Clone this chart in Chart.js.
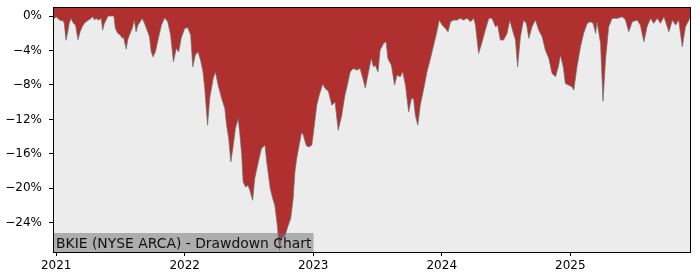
<!DOCTYPE html>
<html>
<head>
<meta charset="utf-8">
<script src="https://cdn.jsdelivr.net/npm/chart.js@4"></script>
<style>
  html, body { margin: 0; padding: 0; background: #fff; }
  #wrap { width: 700px; height: 280px; }
</style>
</head>
<body>
<div id="wrap"><canvas id="ddChart"></canvas></div>
<script>
const chartTitle = 'BKIE (NYSE ARCA) - Drawdown Chart';

const dates = [
  '2020-12-23','2020-12-27','2021-01-01','2021-01-08','2021-01-15','2021-01-19','2021-01-24','2021-01-29',
  '2021-02-03','2021-02-07','2021-02-12','2021-02-19','2021-02-25','2021-03-04','2021-03-10','2021-03-16',
  '2021-03-22','2021-03-27','2021-04-03','2021-04-10','2021-04-15','2021-04-20','2021-04-24','2021-05-02',
  '2021-05-09','2021-05-13','2021-05-18','2021-05-23','2021-05-28','2021-06-06','2021-06-14','2021-06-18',
  '2021-06-25','2021-07-02','2021-07-08','2021-07-11','2021-07-19','2021-07-23','2021-07-28','2021-08-05',
  '2021-08-11','2021-08-16','2021-08-21','2021-08-28','2021-09-02','2021-09-09','2021-09-18','2021-09-23',
  '2021-09-28','2021-10-03','2021-10-10','2021-10-17','2021-10-27','2021-11-05','2021-11-14','2021-11-22',
  '2021-11-30','2021-12-08','2021-12-15','2021-12-22','2022-01-01','2022-01-10','2022-01-18','2022-01-24',
  '2022-01-31','2022-02-08','2022-02-15','2022-02-22','2022-02-27','2022-03-07','2022-03-13','2022-03-23',
  '2022-03-29','2022-04-06','2022-04-16','2022-04-25','2022-04-30','2022-05-06','2022-05-12','2022-05-19',
  '2022-05-25','2022-06-02','2022-06-07','2022-06-12','2022-06-16','2022-06-23','2022-06-30','2022-07-05',
  '2022-07-13','2022-07-19','2022-07-29','2022-08-07','2022-08-17','2022-08-22','2022-09-01','2022-09-08',
  '2022-09-14','2022-09-21','2022-09-27','2022-10-03','2022-10-13','2022-10-22','2022-10-29','2022-11-05',
  '2022-11-10','2022-11-15','2022-11-22','2022-11-29','2022-12-04','2022-12-12','2022-12-18','2022-12-28',
  '2023-01-03','2023-01-11','2023-01-18','2023-01-28','2023-02-04','2023-02-13','2023-02-23','2023-03-04',
  '2023-03-13','2023-03-23','2023-04-01','2023-04-08','2023-04-16','2023-04-25','2023-05-05','2023-05-14',
  '2023-05-22','2023-05-29','2023-06-07','2023-06-15','2023-06-21','2023-06-26','2023-07-04','2023-07-10',
  '2023-07-20','2023-07-27','2023-08-01','2023-08-11','2023-08-20','2023-08-27','2023-09-05','2023-09-12',
  '2023-09-20','2023-09-29','2023-10-07','2023-10-13','2023-10-18','2023-10-25','2023-11-01','2023-11-11',
  '2023-11-20','2023-11-30','2023-12-09','2023-12-16','2023-12-25','2024-01-02','2024-01-11','2024-01-19',
  '2024-01-26','2024-02-04','2024-02-14','2024-02-23','2024-03-03','2024-03-13','2024-03-23','2024-04-01',
  '2024-04-06','2024-04-15','2024-04-25','2024-05-04','2024-05-14','2024-05-23','2024-06-02','2024-06-08',
  '2024-06-16','2024-06-25','2024-07-05','2024-07-13','2024-07-19','2024-07-29','2024-08-04','2024-08-12',
  '2024-08-21','2024-08-29','2024-09-05','2024-09-14','2024-09-24','2024-10-03','2024-10-13','2024-10-22',
  '2024-11-01','2024-11-10','2024-11-20','2024-11-29','2024-12-04','2024-12-12','2024-12-18','2024-12-27',
  '2025-01-06','2025-01-11','2025-01-20','2025-01-30','2025-02-08','2025-02-18','2025-02-27','2025-03-07',
  '2025-03-14','2025-03-18','2025-03-28','2025-04-04','2025-04-11','2025-04-20','2025-04-30','2025-05-14',
  '2025-05-29','2025-06-07','2025-06-16','2025-06-26','2025-07-10','2025-07-19','2025-07-29','2025-08-07',
  '2025-08-17','2025-08-26','2025-09-05','2025-09-14','2025-09-24','2025-10-08','2025-10-18','2025-10-27',
  '2025-11-05','2025-11-15','2025-11-24','2025-12-04','2025-12-07'
];

// drawdown in percent
const drawdown = [
  -0.4, -0.27, -0.08, -0.35, -0.58, -0.47, -0.85, -2.8,
  -1.83, -0.85, -0.27, -0.85, -1.05, -2.75, -1.83, -1.24,
  -0.85, -0.66, -0.47, -0.27, -0.08, -0.47, -0.27, -0.47,
  -0.27, -1.63, -0.85, -0.47, 0, 0, 0, -1.43,
  -2.01, -2.21, -2.59, -2.41, -3.84, -2.79, -2.21, -1.43,
  -0.47, -1.83, -1.05, -0.66, -0.27, -0.85, -1.83, -2.41,
  -4.15, -4.73, -4.15, -2.79, -1.05, -0.2, -0.66, -2.21,
  -5.31, -3.76, -4.15, -2.59, -1.43, -1.36, -2.21, -5.9,
  -4.53, -4.15, -5.12, -6.48, -8.41, -12.67, -9.57, -7.24,
  -6.48, -8.02, -9.57, -10.73, -12.67, -14.22, -16.94, -15.0,
  -13.06, -11.9, -13.84, -16.16, -19.27, -19.85, -19.65, -20.23,
  -21.4, -18.87, -16.94, -15.38, -15.0, -16.94, -20.03, -21.2,
  -21.98, -24.3, -27.2, -25.85, -25.47, -24.3, -23.52, -21.2,
  -18.1, -16.55, -15.0, -13.5, -13.84, -15.0, -15.2, -15.0,
  -13.06, -10.35, -9.19, -7.9, -8.41, -8.72, -10.35, -9.97,
  -13.26, -11.51, -9.19, -8.02, -6.48, -6.08, -6.28, -6.08,
  -7.24, -8.37, -6.48, -4.92, -5.9, -5.7, -6.48, -3.95,
  -3.17, -2.99, -4.92, -5.7, -8.02, -6.86, -7.06, -6.48,
  -8.02, -11.13, -9.57, -9.57, -11.51, -12.67, -10.35, -8.41,
  -6.48, -4.92, -3.37, -2.21, -0.47, -1.05, -1.43, -1.83,
  -0.66, -0.47, -0.47, -0.27, -0.47, -0.27, -0.66, -0.27,
  -1.05, -4.34, -2.99, -1.63, -0.27, -0.27, -1.24, -1.05,
  -2.79, -2.79, -2.01, -0.47, -1.43, -2.79, -5.9, -2.41,
  -0.47, -0.85, -2.59, -1.24, -0.47, -1.63, -2.41, -3.95,
  -4.92, -6.66, -7.06, -5.7, -4.53, -5.9, -7.83, -8.02,
  -8.22, -8.6, -5.9, -3.57, -2.01, -0.85, -0.66, -0.85,
  -2.01, -0.66, -3.17, -9.9, -5.12, -1.24, -0.27, -0.27,
  -0.08, -0.47, -1.83, -0.66, -0.47, -1.05, -2.99, -1.24,
  -0.27, -0.85, -0.27, -0.85, -0.08, -1.83, -0.47, -1.05,
  -0.47, -3.57, -1.24, -0.47, -0.2
];

const yTicks = [0, -4, -8, -12, -16, -20, -24];
const xTicks = ['2021', '2022', '2023', '2024', '2025'];
const yMin = -27.4, yMax = 1.05;

function toYear(s) {
  const d = new Date(s + 'T00:00:00Z');
  const y = d.getUTCFullYear();
  const a = Date.UTC(y, 0, 1), b = Date.UTC(y + 1, 0, 1);
  return y + (d.getTime() - a) / (b - a);
}

const points = dates.map((d, i) => ({ x: toYear(d), y: drawdown[i] }));

const FONT = 'DejaVu Sans';

const frame = {
  id: 'frame',
  beforeDraw(chart) {
    const { ctx, chartArea: a } = chart;
    ctx.save();
    ctx.fillStyle = '#ececec';
    ctx.fillRect(a.left, a.top, a.right - a.left, a.bottom - a.top);
    ctx.restore();
  },
  afterDraw(chart) {
    const { ctx, chartArea: a } = chart;
    ctx.save();
    // title box
    ctx.font = '13.9px "' + FONT + '"';
    const w = ctx.measureText(chartTitle).width;
    ctx.fillStyle = 'rgba(110,110,110,0.5)';
    ctx.fillRect(a.left, a.bottom - 19, w + 5, 19);
    ctx.fillStyle = '#111';
    ctx.textBaseline = 'alphabetic';
    ctx.fillText(chartTitle, a.left + 3, a.bottom - 4.5);
    // border
    ctx.strokeStyle = '#000';
    ctx.lineWidth = 1;
    ctx.strokeRect(Math.round(a.left) + 0.5, Math.round(a.top) + 0.5,
                   Math.round(a.right - a.left), Math.round(a.bottom - a.top));
    ctx.restore();
  }
};

new Chart(document.getElementById('ddChart'), {
  type: 'line',
  data: {
    datasets: [{
      data: points,
      fill: 'end',
      backgroundColor: '#b03030',
      borderColor: 'rgba(110,110,110,0.7)',
      borderWidth: 1,
      pointRadius: 0,
      tension: 0
    }]
  },
  options: {
    responsive: true,
    maintainAspectRatio: false,
    animation: false,
    layout: { padding: { top: 7, right: 10, left: 0, bottom: 0 } },
    plugins: { legend: { display: false }, tooltip: { enabled: false } },
    scales: {
      x: {
        type: 'linear',
        min: points[0].x,
        max: points[points.length - 1].x,
        afterFit(s) { s.height = 28; s.paddingLeft = 0; s.paddingRight = 0; },
        afterBuildTicks(s) { s.ticks = xTicks.map(t => ({ value: Number(t) })); },
        grid: { drawOnChartArea: false, tickLength: 4, color: '#000' },
        border: { color: '#000' },
        ticks: {
          color: '#000', padding: 3, maxRotation: 0,
          font: { family: FONT, size: 12 },
          callback: v => String(v)
        }
      },
      y: {
        min: yMin,
        max: yMax,
        afterFit(s) { s.width = 53; s.paddingTop = 0; s.paddingBottom = 0; },
        afterBuildTicks(s) { s.ticks = yTicks.map(v => ({ value: v })); },
        grid: { drawOnChartArea: false, tickLength: 4, color: '#000' },
        border: { color: '#000' },
        ticks: {
          color: '#000', padding: 7,
          font: { family: FONT, size: 12 },
          callback: v => (v < 0 ? '\u2212' + Math.abs(v) : v) + '%'
        }
      }
    }
  },
  plugins: [frame]
});
</script>
</body>
</html>
